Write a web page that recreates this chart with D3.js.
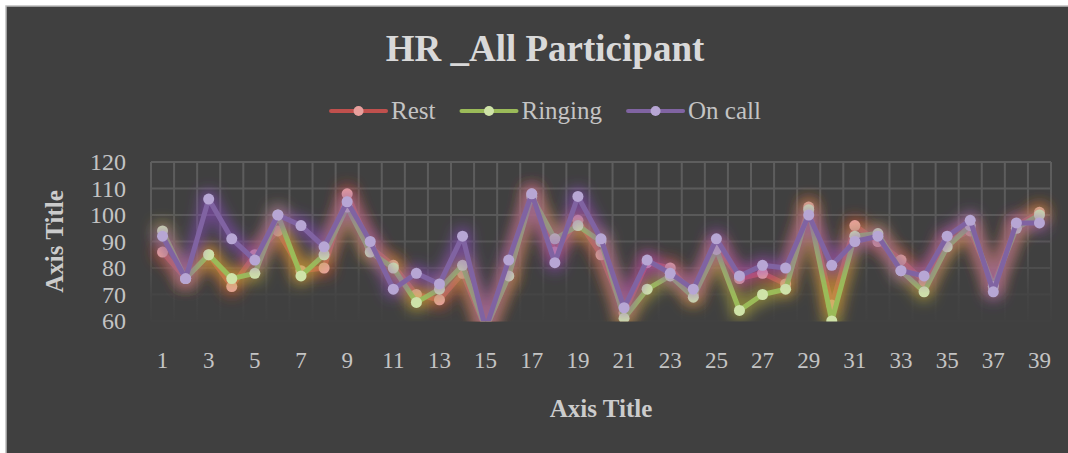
<!DOCTYPE html>
<html>
<head>
<meta charset="utf-8">
<script src="https://cdn.jsdelivr.net/npm/d3@7"></script>
<style>
  html, body { margin: 0; padding: 0; background: #ffffff; overflow: hidden; }
  svg { display: block; }
  text { font-family: "Liberation Serif", "DejaVu Serif", serif; }
</style>
</head>
<body>
<svg id="chart" width="1068" height="453"></svg>
<script>
// ---- data ----
const categories = [1,2,3,4,5,6,7,8,9,10,11,12,13,14,15,16,17,18,19,20,21,22,23,24,25,26,27,28,29,30,31,32,33,34,35,36,37,38,39];
const xTickLabels = [1,3,5,7,9,11,13,15,17,19,21,23,25,27,29,31,33,35,37,39];
const yTickValues = [60,70,80,90,100,110,120];
const seriesNames = ["Rest", "Ringing", "On call"];
const rest    = [86,76,85,73,85,94,79,80,108,88,81,70,68,78,57,77,108,86,98,85,63,82,80,70,88,76,78,74,103,66,96,90,83,75,90,94,74,96,101];
const ringing = [94,76,85,76,78,100,77,85,103,86,80,67,72,81,57,77,107,91,96,90,61,72,77,69,87,64,70,72,102,60,92,93,79,71,88,96,73,95,100];
const onCall  = [92,76,106,91,83,100,96,88,105,90,72,78,74,92,57,83,108,82,107,91,65,83,78,72,91,77,81,80,100,81,90,92,79,77,92,98,71,97,97];
const titleText = "HR _All Participant";
const xAxisTitle = "Axis Title";
const yAxisTitle = "Axis Title";

// ---- styles ----
const styles = [
  { line: "#c0504d", marker: "#e8a09d", glow: "#dc4a2c" },
  { line: "#9bbb59", marker: "#cfe3a8", glow: "#c0b83a" },
  { line: "#8064a2", marker: "#b7a6d4", glow: "#8e4cc8" }
];
const seriesData = [rest, ringing, onCall];

const svg = d3.select("#chart");
const W = 1068, H = 453;
const plot = { left: 151, right: 1051, top: 162, bottom: 321 };

// background
svg.append("rect").attr("x", 6).attr("y", 6).attr("width", W + 20).attr("height", H + 20)
  .attr("fill", "#404040").attr("stroke", "#bdbdbd").attr("stroke-width", 1.5);

const defs = svg.append("defs");
const grad = defs.append("linearGradient").attr("id", "gridGrad")
  .attr("gradientUnits", "userSpaceOnUse")
  .attr("x1", 0).attr("y1", plot.top).attr("x2", 0).attr("y2", plot.bottom);
grad.append("stop").attr("offset", "0%").attr("stop-color", "#5e5e5e");
grad.append("stop").attr("offset", "45%").attr("stop-color", "#585858");
grad.append("stop").attr("offset", "85%").attr("stop-color", "#444444");
grad.append("stop").attr("offset", "100%").attr("stop-color", "#414141");

defs.append("clipPath").attr("id", "plotClip").append("rect")
  .attr("x", 130).attr("y", 120).attr("width", 938).attr("height", plot.bottom + 0.5 - 120);

styles.forEach((s, i) => {
  const f = defs.append("filter").attr("id", "glow" + i)
    .attr("filterUnits", "userSpaceOnUse")
    .attr("x", 0).attr("y", 0).attr("width", W).attr("height", H);
  f.append("feMorphology").attr("in", "SourceAlpha").attr("operator", "dilate").attr("radius", 3).attr("result", "dil");
  f.append("feGaussianBlur").attr("in", "dil").attr("stdDeviation", 7).attr("result", "blur");
  f.append("feFlood").attr("flood-color", s.glow).attr("flood-opacity", 0.62);
  f.append("feComposite").attr("in2", "blur").attr("operator", "in").attr("result", "glow");
  const m = f.append("feMerge");
  m.append("feMergeNode").attr("in", "glow");
  m.append("feMergeNode").attr("in", "SourceGraphic");
});

// scales
const x = d3.scaleBand().domain(categories).range([plot.left, plot.right]).padding(0);
const y = d3.scaleLinear().domain([60, 120]).range([plot.bottom, plot.top]);

// gridlines
const grid = svg.append("g").attr("stroke", "url(#gridGrad)").attr("stroke-width", 2).attr("fill", "none");
grid.selectAll("line.h").data(yTickValues).enter().append("line")
  .attr("x1", plot.left).attr("x2", plot.right)
  .attr("y1", d => y(d)).attr("y2", d => y(d));
const vBounds = categories.map(c => x(c)).concat([plot.right]);
grid.selectAll("line.v").data(vBounds).enter().append("line")
  .attr("x1", d => d).attr("x2", d => d)
  .attr("y1", plot.top).attr("y2", plot.bottom);

// axes
const yAxis = svg.append("g").attr("transform", `translate(${plot.left},0)`)
  .call(d3.axisLeft(y).tickValues(yTickValues).tickSize(0).tickPadding(25));
yAxis.select(".domain").remove();
yAxis.selectAll("text").attr("font-size", 24).attr("fill", "#c4c4c4")
  .attr("font-family", "Liberation Serif");

const xAxis = svg.append("g").attr("transform", `translate(0,${plot.bottom})`)
  .call(d3.axisBottom(x).tickValues(xTickLabels).tickSize(0).tickPadding(31));
xAxis.select(".domain").remove();
xAxis.selectAll("text").attr("font-size", 23).attr("fill", "#c4c4c4")
  .attr("font-family", "Liberation Serif");

// series
const cx = d => x(d) + x.bandwidth() / 2;
const plotG = svg.append("g").attr("clip-path", "url(#plotClip)");
seriesData.forEach((vals, i) => {
  const s = styles[i];
  const g = plotG.append("g").attr("filter", `url(#glow${i})`);
  const line = d3.line().x((d, j) => cx(categories[j])).y(d => y(d));
  g.append("path").datum(vals).attr("d", line)
    .attr("fill", "none").attr("stroke", s.line).attr("stroke-width", 5)
    .attr("stroke-linejoin", "round");
  g.selectAll("circle").data(vals).enter().append("circle")
    .attr("cx", (d, j) => cx(categories[j])).attr("cy", d => y(d))
    .attr("r", 5.5).attr("fill", s.marker);
});

// title
svg.append("text").attr("x", 545).attr("y", 61).attr("text-anchor", "middle")
  .attr("font-size", 37).attr("font-weight", "bold").attr("fill", "#d9d9d9").text(titleText);

// legend
const legend = svg.append("g");
let cursor = 0;
seriesNames.forEach((name, i) => {
  const g = legend.append("g");
  g.append("line").attr("x1", 0).attr("x2", 55).attr("y1", 0).attr("y2", 0)
    .attr("stroke", styles[i].line).attr("stroke-width", 4).attr("stroke-linecap", "round");
  g.append("circle").attr("cx", 27.5).attr("cy", 0).attr("r", 5).attr("fill", styles[i].marker);
  const t = g.append("text").attr("x", 60).attr("y", 8).attr("font-size", 25)
    .attr("fill", "#c4c4c4").text(name);
  const w = 60 + t.node().getComputedTextLength();
  g.attr("transform", `translate(${cursor},111)`);
  cursor += w + 26;
});
const legendWidth = cursor - 26;
legend.attr("transform", `translate(${546 - legendWidth / 2},0)`);

// axis titles
svg.append("text").attr("x", (plot.left + plot.right) / 2).attr("y", 417).attr("text-anchor", "middle")
  .attr("font-size", 25).attr("font-weight", "bold").attr("fill", "#cccccc").text(xAxisTitle);
svg.append("text").attr("transform", `translate(63,${(plot.top + plot.bottom) / 2}) rotate(-90)`)
  .attr("text-anchor", "middle").attr("font-size", 25).attr("font-weight", "bold")
  .attr("fill", "#cccccc").text(yAxisTitle);
</script>
</body>
</html>
